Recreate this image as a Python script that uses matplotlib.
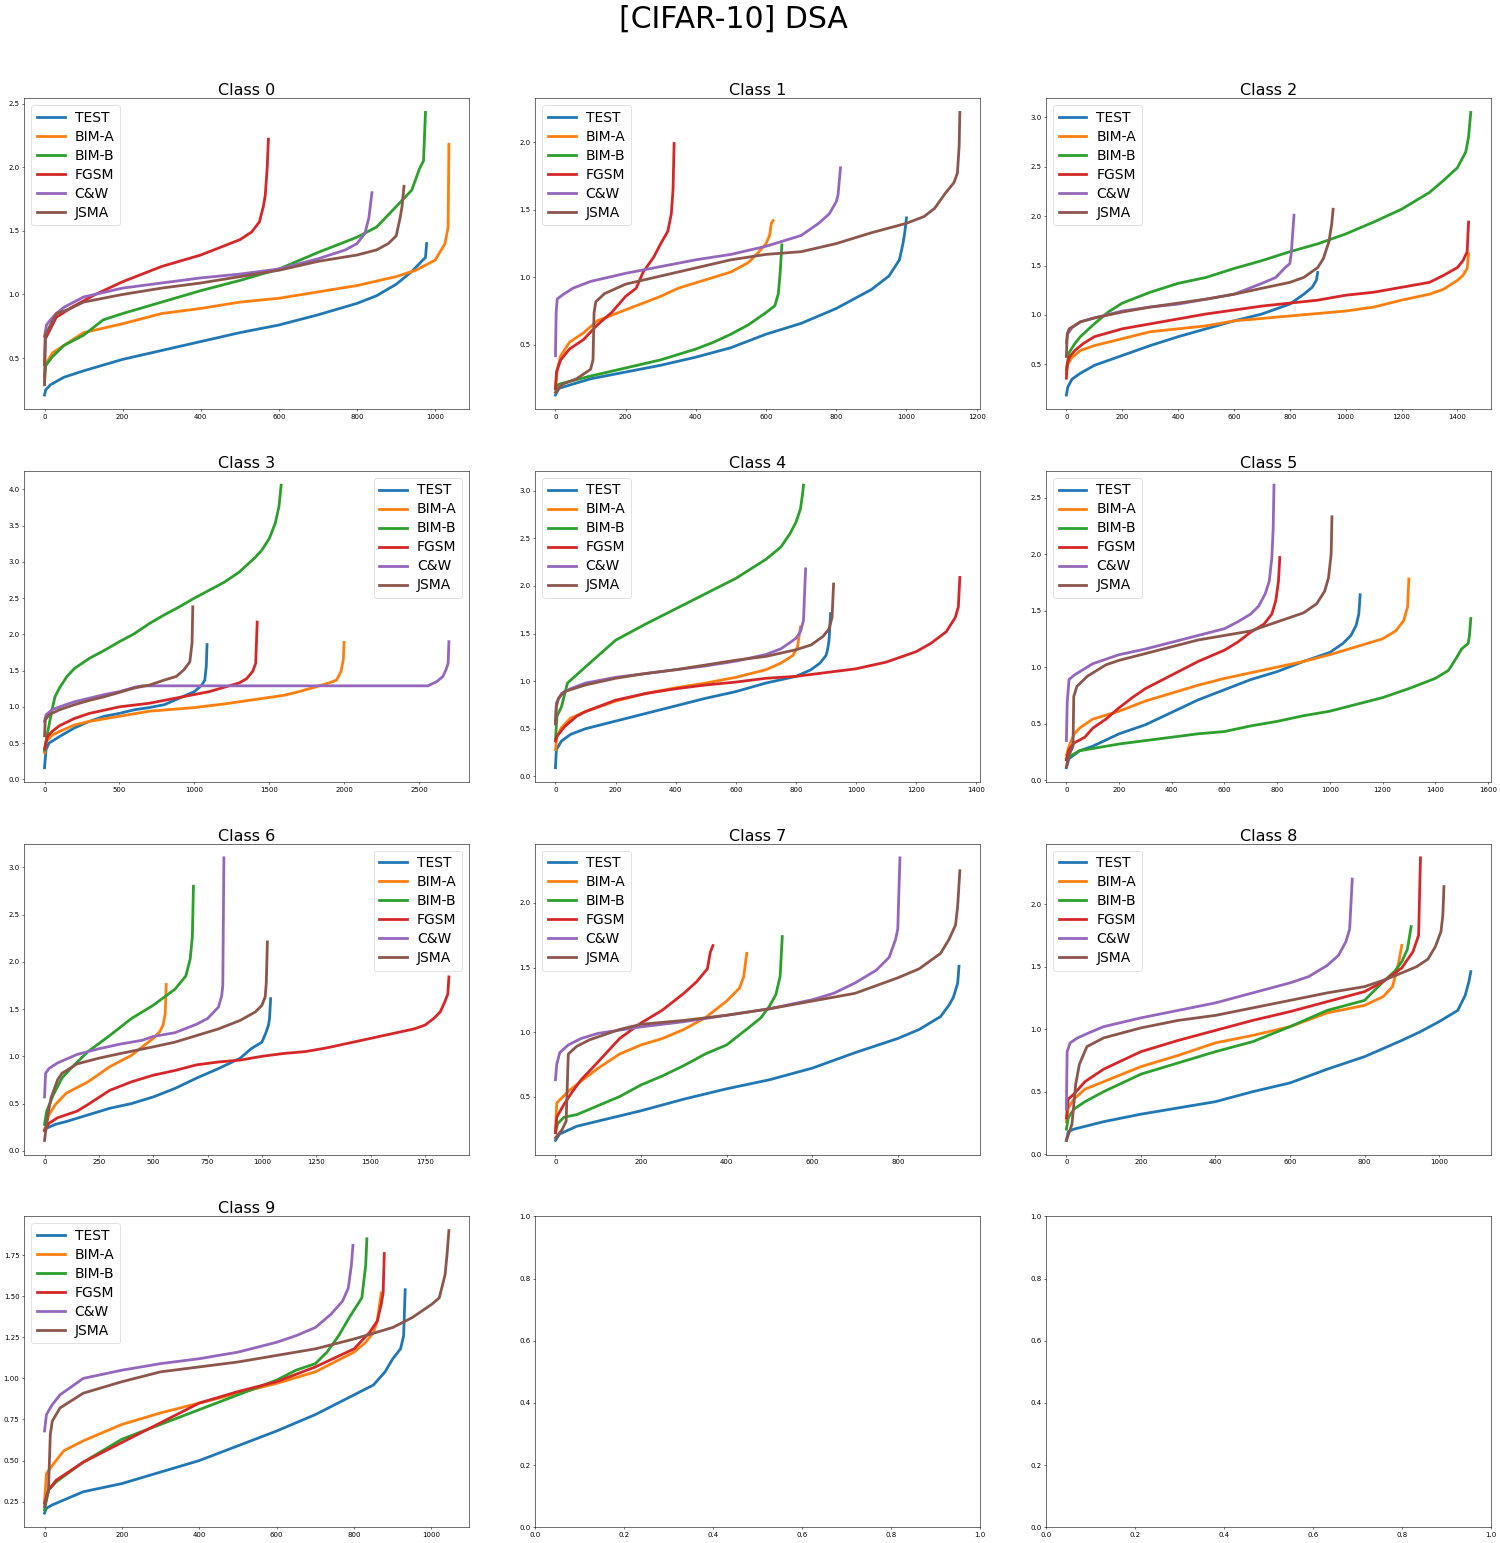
import matplotlib
matplotlib.use("Agg")
import matplotlib.pyplot as plt

SERIES = ["TEST", "BIM-A", "BIM-B", "FGSM", "C&W", "JSMA"]
COLORS = ["#1f77b4", "#ff7f0e", "#2ca02c", "#d62728", "#9467bd", "#8c564b"]
CLASS_TITLES = ["Class 0", "Class 1", "Class 2", "Class 3", "Class 4",
                "Class 5", "Class 6", "Class 7", "Class 8", "Class 9"]
LEGEND_LOC = ["upper left", "upper left", "upper left", "upper right", "upper left",
              "upper left", "upper right", "upper left", "upper left", "upper left"]

# ---------------- Class 0 ----------------
c0_test_x = [0, 3, 15, 50, 100, 200, 300, 400, 500, 600, 700, 800, 850, 900, 940, 965, 975, 978]
c0_test_y = [0.21, 0.25, 0.29, 0.35, 0.40, 0.49, 0.56, 0.63, 0.70, 0.76, 0.84, 0.93, 0.99, 1.08, 1.18, 1.26, 1.29, 1.40]
c0_bima_x = [0, 3, 20, 50, 100, 200, 300, 400, 500, 600, 700, 800, 900, 950, 1000, 1025, 1033, 1035]
c0_bima_y = [0.30, 0.45, 0.54, 0.60, 0.70, 0.77, 0.85, 0.89, 0.94, 0.97, 1.02, 1.07, 1.14, 1.19, 1.27, 1.40, 1.53, 2.18]
c0_bimb_x = [0, 3, 20, 50, 100, 150, 200, 300, 400, 500, 600, 700, 800, 850, 900, 940, 960, 970, 975]
c0_bimb_y = [0.36, 0.44, 0.51, 0.60, 0.68, 0.80, 0.85, 0.94, 1.03, 1.11, 1.20, 1.33, 1.45, 1.53, 1.69, 1.82, 1.99, 2.05, 2.43]
c0_fgsm_x = [0, 2, 30, 70, 130, 200, 300, 400, 450, 500, 530, 550, 560, 565, 570, 573]
c0_fgsm_y = [0.45, 0.65, 0.82, 0.90, 1.00, 1.10, 1.22, 1.31, 1.37, 1.43, 1.49, 1.57, 1.69, 1.78, 2.00, 2.22]
c0_cw_x = [0, 5, 15, 30, 50, 100, 200, 300, 400, 500, 600, 700, 770, 800, 820, 830, 838]
c0_cw_y = [0.67, 0.76, 0.80, 0.85, 0.90, 0.98, 1.05, 1.09, 1.13, 1.16, 1.20, 1.28, 1.35, 1.40, 1.48, 1.60, 1.80]
c0_jsma_x = [0, 2, 30, 60, 100, 200, 300, 400, 500, 600, 700, 800, 850, 880, 900, 910, 915, 920]
c0_jsma_y = [0.29, 0.68, 0.85, 0.88, 0.94, 1.00, 1.05, 1.09, 1.14, 1.19, 1.26, 1.31, 1.35, 1.40, 1.46, 1.60, 1.69, 1.85]

# ---------------- Class 1 ----------------
c1_test_x = [0, 10, 100, 200, 300, 400, 500, 600, 700, 800, 900, 950, 980, 990, 995, 1000]
c1_test_y = [0.13, 0.18, 0.25, 0.30, 0.35, 0.41, 0.48, 0.58, 0.66, 0.77, 0.91, 1.01, 1.13, 1.25, 1.33, 1.44]
c1_bima_x = [0, 5, 15, 40, 80, 120, 200, 250, 300, 350, 400, 450, 500, 550, 580, 600, 610, 615, 620]
c1_bima_y = [0.17, 0.32, 0.42, 0.52, 0.59, 0.68, 0.76, 0.81, 0.86, 0.92, 0.96, 1.00, 1.04, 1.11, 1.19, 1.25, 1.31, 1.40, 1.42]
c1_bimb_x = [0, 10, 100, 200, 300, 400, 450, 500, 550, 600, 625, 635, 640, 645]
c1_bimb_y = [0.18, 0.21, 0.27, 0.33, 0.39, 0.47, 0.52, 0.58, 0.65, 0.74, 0.79, 0.88, 1.03, 1.24]
c1_fgsm_x = [0, 3, 15, 40, 80, 120, 160, 200, 230, 250, 280, 300, 320, 330, 335, 338]
c1_fgsm_y = [0.18, 0.30, 0.39, 0.47, 0.54, 0.65, 0.74, 0.86, 0.92, 1.04, 1.15, 1.25, 1.34, 1.47, 1.65, 1.99]
c1_cw_x = [0, 2, 5, 20, 50, 100, 200, 300, 400, 500, 600, 700, 750, 780, 800, 805, 812]
c1_cw_y = [0.42, 0.74, 0.84, 0.87, 0.92, 0.97, 1.03, 1.08, 1.13, 1.17, 1.23, 1.31, 1.40, 1.47, 1.56, 1.61, 1.81]
c1_jsma_x = [0, 20, 60, 100, 107, 110, 115, 140, 200, 300, 400, 500, 600, 700, 800, 900, 1000, 1050, 1080, 1110, 1135, 1145, 1150, 1152]
c1_jsma_y = [0.15, 0.21, 0.25, 0.32, 0.39, 0.74, 0.82, 0.88, 0.95, 1.01, 1.07, 1.13, 1.17, 1.19, 1.25, 1.33, 1.40, 1.45, 1.51, 1.62, 1.70, 1.77, 1.97, 2.22]

# ---------------- Class 2 ----------------
c2_test_x = [0, 5, 20, 50, 100, 200, 300, 400, 500, 600, 700, 750, 800, 850, 880, 895, 900]
c2_test_y = [0.19, 0.27, 0.35, 0.41, 0.49, 0.59, 0.69, 0.78, 0.86, 0.94, 1.01, 1.06, 1.11, 1.21, 1.28, 1.35, 1.43]
c2_bima_x = [0, 5, 20, 50, 100, 200, 300, 400, 500, 600, 800, 1000, 1100, 1200, 1300, 1350, 1400, 1420, 1435, 1440]
c2_bima_y = [0.41, 0.50, 0.57, 0.64, 0.69, 0.76, 0.83, 0.86, 0.89, 0.94, 0.99, 1.04, 1.08, 1.15, 1.21, 1.26, 1.35, 1.40, 1.47, 1.62]
c2_bimb_x = [0, 10, 30, 50, 100, 150, 200, 300, 400, 500, 600, 700, 800, 900, 1000, 1100, 1200, 1300, 1350, 1400, 1430, 1440, 1448]
c2_bimb_y = [0.45, 0.62, 0.71, 0.78, 0.91, 1.03, 1.12, 1.23, 1.32, 1.38, 1.47, 1.55, 1.64, 1.72, 1.82, 1.94, 2.07, 2.24, 2.36, 2.49, 2.65, 2.80, 3.05]
c2_fgsm_x = [0, 3, 10, 30, 60, 100, 200, 300, 400, 500, 600, 700, 800, 900, 1000, 1100, 1200, 1300, 1350, 1400, 1420, 1435, 1440]
c2_fgsm_y = [0.36, 0.50, 0.57, 0.64, 0.71, 0.78, 0.86, 0.91, 0.96, 1.01, 1.05, 1.09, 1.12, 1.15, 1.20, 1.23, 1.28, 1.33, 1.40, 1.48, 1.55, 1.64, 1.94]
c2_cw_x = [0, 5, 20, 50, 100, 200, 300, 400, 500, 600, 700, 750, 780, 800, 805, 815]
c2_cw_y = [0.72, 0.81, 0.87, 0.93, 0.97, 1.04, 1.08, 1.11, 1.16, 1.21, 1.32, 1.38, 1.47, 1.52, 1.62, 2.01]
c2_jsma_x = [0, 3, 10, 50, 100, 200, 300, 400, 500, 600, 700, 800, 850, 900, 920, 940, 950, 955]
c2_jsma_y = [0.58, 0.81, 0.86, 0.93, 0.97, 1.03, 1.08, 1.12, 1.16, 1.21, 1.27, 1.33, 1.38, 1.48, 1.57, 1.74, 1.92, 2.07]

# ---------------- Class 3 ----------------
c3_test_x = [0, 10, 30, 100, 200, 300, 400, 500, 600, 700, 800, 900, 1000, 1050, 1070, 1080, 1085]
c3_test_y = [0.16, 0.41, 0.50, 0.59, 0.71, 0.80, 0.87, 0.91, 0.96, 0.99, 1.03, 1.12, 1.21, 1.30, 1.37, 1.56, 1.86]
c3_bima_x = [0, 10, 50, 100, 200, 300, 500, 700, 1000, 1200, 1400, 1600, 1700, 1800, 1900, 1950, 1980, 1995, 2000]
c3_bima_y = [0.37, 0.52, 0.61, 0.66, 0.75, 0.80, 0.87, 0.94, 0.99, 1.04, 1.10, 1.16, 1.21, 1.27, 1.33, 1.37, 1.49, 1.65, 1.89]
c3_bimb_x = [0, 20, 50, 70, 100, 150, 200, 300, 400, 500, 600, 700, 800, 900, 1000, 1100, 1200, 1300, 1400, 1450, 1500, 1540, 1565, 1580]
c3_bimb_y = [0.40, 0.64, 0.96, 1.14, 1.26, 1.42, 1.53, 1.67, 1.78, 1.90, 2.01, 2.15, 2.27, 2.38, 2.50, 2.61, 2.72, 2.86, 3.05, 3.16, 3.32, 3.53, 3.76, 4.06]
c3_fgsm_x = [0, 20, 50, 100, 200, 300, 500, 700, 900, 1100, 1200, 1300, 1350, 1390, 1410, 1420]
c3_fgsm_y = [0.42, 0.59, 0.66, 0.74, 0.84, 0.91, 1.00, 1.05, 1.13, 1.21, 1.27, 1.33, 1.39, 1.49, 1.60, 2.17]
c3_cw_x = [0, 10, 50, 100, 200, 300, 400, 500, 600, 650, 2560, 2620, 2660, 2680, 2695, 2700]
c3_cw_y = [0.80, 0.89, 0.96, 1.00, 1.07, 1.12, 1.17, 1.21, 1.27, 1.29, 1.29, 1.35, 1.42, 1.51, 1.60, 1.90]
c3_jsma_x = [0, 5, 30, 100, 200, 300, 400, 500, 600, 700, 800, 880, 930, 970, 985, 990]
c3_jsma_y = [0.60, 0.82, 0.89, 0.96, 1.03, 1.09, 1.14, 1.20, 1.26, 1.30, 1.37, 1.42, 1.51, 1.62, 1.88, 2.38]

# ---------------- Class 4 ----------------
c4_test_x = [0, 3, 20, 50, 100, 200, 300, 400, 500, 600, 700, 800, 850, 880, 900, 905, 910, 915]
c4_test_y = [0.09, 0.28, 0.37, 0.44, 0.50, 0.58, 0.66, 0.74, 0.82, 0.89, 0.98, 1.05, 1.12, 1.19, 1.27, 1.33, 1.43, 1.71]
c4_bima_x = [0, 5, 20, 50, 100, 200, 300, 400, 500, 600, 700, 750, 790, 805, 815]
c4_bima_y = [0.28, 0.42, 0.51, 0.61, 0.68, 0.79, 0.87, 0.93, 0.98, 1.04, 1.12, 1.19, 1.27, 1.36, 1.57]
c4_bimb_x = [0, 5, 20, 40, 100, 150, 200, 300, 400, 500, 600, 700, 750, 780, 800, 815, 822, 825]
c4_bimb_y = [0.38, 0.63, 0.73, 0.98, 1.15, 1.29, 1.43, 1.60, 1.76, 1.92, 2.08, 2.28, 2.41, 2.55, 2.67, 2.81, 2.97, 3.06]
c4_fgsm_x = [0, 5, 30, 70, 100, 200, 300, 400, 500, 600, 700, 800, 900, 1000, 1100, 1200, 1250, 1300, 1330, 1340, 1345]
c4_fgsm_y = [0.37, 0.42, 0.52, 0.63, 0.68, 0.80, 0.87, 0.92, 0.96, 0.99, 1.03, 1.05, 1.09, 1.13, 1.20, 1.31, 1.40, 1.52, 1.67, 1.78, 2.09]
c4_cw_x = [0, 3, 20, 50, 100, 200, 300, 400, 500, 600, 700, 750, 800, 815, 825, 832]
c4_cw_y = [0.55, 0.77, 0.87, 0.92, 0.98, 1.04, 1.08, 1.12, 1.16, 1.21, 1.28, 1.34, 1.45, 1.52, 1.64, 2.18]
c4_jsma_x = [0, 3, 10, 30, 100, 200, 300, 400, 500, 600, 700, 800, 850, 890, 910, 920, 925]
c4_jsma_y = [0.55, 0.73, 0.82, 0.89, 0.96, 1.03, 1.08, 1.12, 1.17, 1.22, 1.26, 1.33, 1.38, 1.47, 1.55, 1.67, 2.02]

# ---------------- Class 5 ----------------
c5_test_x = [0, 10, 50, 100, 200, 300, 400, 500, 600, 700, 800, 900, 1000, 1050, 1080, 1100, 1110, 1115]
c5_test_y = [0.11, 0.19, 0.26, 0.30, 0.41, 0.49, 0.60, 0.71, 0.80, 0.89, 0.96, 1.05, 1.13, 1.21, 1.28, 1.37, 1.47, 1.64]
c5_bima_x = [0, 10, 30, 50, 100, 200, 300, 400, 500, 600, 700, 800, 900, 1000, 1100, 1200, 1250, 1280, 1295, 1300]
c5_bima_y = [0.22, 0.30, 0.41, 0.46, 0.54, 0.61, 0.70, 0.77, 0.84, 0.90, 0.95, 1.00, 1.05, 1.11, 1.18, 1.25, 1.32, 1.41, 1.53, 1.78]
c5_bimb_x = [0, 20, 50, 100, 200, 300, 400, 500, 600, 700, 800, 900, 1000, 1100, 1200, 1300, 1400, 1450, 1480, 1500, 1525, 1530, 1535]
c5_bimb_y = [0.19, 0.22, 0.26, 0.28, 0.32, 0.35, 0.38, 0.41, 0.43, 0.48, 0.52, 0.57, 0.61, 0.67, 0.73, 0.81, 0.90, 0.97, 1.08, 1.16, 1.21, 1.28, 1.43]
c5_fgsm_x = [0, 10, 30, 70, 100, 150, 200, 250, 300, 400, 500, 600, 650, 700, 750, 780, 795, 805, 810]
c5_fgsm_y = [0.18, 0.27, 0.33, 0.38, 0.46, 0.54, 0.64, 0.73, 0.81, 0.93, 1.05, 1.15, 1.22, 1.31, 1.38, 1.47, 1.59, 1.76, 1.97]
c5_cw_x = [0, 3, 10, 30, 100, 200, 300, 400, 500, 600, 650, 700, 730, 755, 770, 780, 785, 788]
c5_cw_y = [0.35, 0.68, 0.89, 0.93, 1.03, 1.11, 1.16, 1.22, 1.28, 1.34, 1.40, 1.47, 1.54, 1.65, 1.76, 1.97, 2.23, 2.61]
c5_jsma_x = [0, 10, 25, 28, 40, 80, 150, 200, 300, 400, 500, 600, 700, 800, 900, 950, 980, 995, 1005, 1008]
c5_jsma_y = [0.12, 0.22, 0.30, 0.74, 0.83, 0.92, 1.02, 1.06, 1.12, 1.18, 1.24, 1.28, 1.32, 1.40, 1.48, 1.56, 1.67, 1.79, 2.00, 2.33]

# ---------------- Class 6 ----------------
c6_test_x = [0, 10, 50, 100, 200, 300, 400, 500, 600, 700, 800, 900, 950, 1000, 1020, 1030, 1035, 1040]
c6_test_y = [0.21, 0.24, 0.28, 0.31, 0.38, 0.45, 0.50, 0.57, 0.66, 0.77, 0.87, 0.98, 1.08, 1.15, 1.26, 1.33, 1.40, 1.61]
c6_bima_x = [0, 20, 50, 100, 200, 300, 400, 450, 500, 530, 545, 555, 560]
c6_bima_y = [0.22, 0.38, 0.49, 0.61, 0.73, 0.89, 1.01, 1.10, 1.19, 1.26, 1.33, 1.45, 1.76]
c6_bimb_x = [0, 10, 40, 80, 120, 200, 300, 400, 500, 600, 650, 670, 680, 685]
c6_bimb_y = [0.28, 0.42, 0.59, 0.77, 0.87, 1.05, 1.22, 1.40, 1.54, 1.71, 1.85, 2.03, 2.27, 2.80]
c6_fgsm_x = [0, 20, 60, 150, 200, 300, 400, 500, 600, 700, 800, 900, 1000, 1100, 1200, 1300, 1400, 1500, 1600, 1700, 1750, 1790, 1820, 1840, 1855, 1860]
c6_fgsm_y = [0.22, 0.29, 0.35, 0.42, 0.49, 0.64, 0.73, 0.80, 0.85, 0.91, 0.94, 0.96, 1.00, 1.03, 1.05, 1.09, 1.14, 1.19, 1.24, 1.29, 1.33, 1.40, 1.47, 1.57, 1.66, 1.84]
c6_cw_x = [0, 5, 20, 60, 150, 250, 350, 450, 500, 600, 700, 750, 800, 815, 820, 825]
c6_cw_y = [0.57, 0.82, 0.87, 0.93, 1.02, 1.08, 1.13, 1.17, 1.21, 1.25, 1.34, 1.40, 1.52, 1.64, 1.75, 3.10]
c6_jsma_x = [0, 15, 30, 60, 80, 150, 250, 350, 500, 600, 700, 800, 900, 970, 1000, 1015, 1020, 1025]
c6_jsma_y = [0.11, 0.38, 0.56, 0.75, 0.82, 0.92, 0.98, 1.03, 1.10, 1.15, 1.22, 1.29, 1.38, 1.47, 1.54, 1.63, 1.78, 2.21]

# ---------------- Class 7 ----------------
c7_test_x = [0, 10, 50, 100, 200, 300, 400, 500, 600, 700, 800, 850, 900, 920, 930, 940, 943]
c7_test_y = [0.16, 0.21, 0.27, 0.31, 0.39, 0.48, 0.56, 0.63, 0.72, 0.84, 0.95, 1.02, 1.12, 1.21, 1.27, 1.38, 1.51]
c7_bima_x = [0, 3, 30, 60, 100, 150, 200, 250, 300, 350, 400, 430, 440, 447]
c7_bima_y = [0.22, 0.45, 0.54, 0.62, 0.72, 0.83, 0.90, 0.95, 1.02, 1.11, 1.24, 1.34, 1.43, 1.61]
c7_bimb_x = [0, 5, 20, 50, 100, 150, 200, 250, 300, 350, 400, 450, 480, 500, 515, 525, 530]
c7_bimb_y = [0.22, 0.29, 0.34, 0.36, 0.43, 0.50, 0.59, 0.66, 0.74, 0.83, 0.90, 1.03, 1.11, 1.20, 1.29, 1.43, 1.74]
c7_fgsm_x = [0, 3, 20, 40, 60, 100, 150, 200, 250, 300, 330, 355, 362, 368]
c7_fgsm_y = [0.22, 0.34, 0.44, 0.54, 0.63, 0.77, 0.95, 1.07, 1.17, 1.30, 1.39, 1.49, 1.62, 1.67]
c7_cw_x = [0, 3, 10, 30, 60, 100, 200, 300, 400, 500, 600, 650, 700, 750, 780, 795, 800, 805]
c7_cw_y = [0.63, 0.75, 0.84, 0.90, 0.95, 0.99, 1.04, 1.08, 1.13, 1.18, 1.25, 1.30, 1.38, 1.48, 1.58, 1.72, 1.80, 2.35]
c7_jsma_x = [0, 15, 25, 30, 50, 80, 150, 200, 300, 400, 500, 600, 700, 800, 850, 900, 920, 935, 940, 945]
c7_jsma_y = [0.18, 0.24, 0.31, 0.83, 0.89, 0.94, 1.02, 1.06, 1.09, 1.13, 1.18, 1.24, 1.30, 1.42, 1.49, 1.61, 1.72, 1.83, 1.98, 2.25]

# ---------------- Class 8 ----------------
c8_test_x = [0, 5, 20, 100, 200, 300, 400, 500, 600, 700, 800, 900, 950, 1000, 1050, 1070, 1080, 1085]
c8_test_y = [0.11, 0.18, 0.20, 0.26, 0.32, 0.37, 0.42, 0.50, 0.57, 0.68, 0.78, 0.91, 0.98, 1.06, 1.15, 1.27, 1.38, 1.46]
c8_bima_x = [0, 5, 20, 50, 100, 200, 300, 400, 500, 600, 700, 800, 850, 875, 890, 900]
c8_bima_y = [0.26, 0.37, 0.44, 0.52, 0.58, 0.70, 0.79, 0.89, 0.95, 1.02, 1.13, 1.19, 1.26, 1.34, 1.51, 1.67]
c8_bimb_x = [0, 5, 20, 50, 100, 200, 300, 400, 500, 600, 700, 800, 850, 880, 900, 915, 925]
c8_bimb_y = [0.20, 0.29, 0.36, 0.42, 0.50, 0.64, 0.73, 0.82, 0.90, 1.02, 1.15, 1.23, 1.38, 1.46, 1.54, 1.64, 1.82]
c8_fgsm_x = [0, 5, 20, 50, 100, 200, 300, 400, 500, 600, 700, 800, 850, 900, 930, 945, 950]
c8_fgsm_y = [0.29, 0.44, 0.48, 0.58, 0.68, 0.82, 0.91, 0.99, 1.07, 1.14, 1.22, 1.30, 1.38, 1.49, 1.62, 1.75, 2.37]
c8_cw_x = [0, 2, 10, 30, 60, 100, 200, 300, 400, 500, 600, 650, 700, 730, 750, 760, 767]
c8_cw_y = [0.36, 0.82, 0.89, 0.93, 0.97, 1.02, 1.09, 1.15, 1.21, 1.29, 1.37, 1.42, 1.51, 1.59, 1.70, 1.80, 2.20]
c8_jsma_x = [0, 15, 25, 35, 55, 100, 200, 300, 400, 500, 600, 700, 800, 850, 900, 940, 970, 990, 1005, 1010, 1013]
c8_jsma_y = [0.11, 0.24, 0.56, 0.72, 0.86, 0.93, 1.01, 1.07, 1.11, 1.17, 1.23, 1.29, 1.34, 1.39, 1.45, 1.50, 1.56, 1.66, 1.78, 1.91, 2.14]

# ---------------- Class 9 ----------------
c9_test_x = [0, 5, 20, 50, 100, 200, 300, 400, 500, 600, 700, 800, 850, 880, 900, 920, 928, 932]
c9_test_y = [0.18, 0.21, 0.23, 0.26, 0.31, 0.36, 0.43, 0.50, 0.59, 0.68, 0.78, 0.90, 0.96, 1.04, 1.12, 1.18, 1.26, 1.54]
c9_bima_x = [0, 5, 20, 50, 100, 200, 300, 400, 500, 600, 700, 800, 830, 850, 860, 870]
c9_bima_y = [0.25, 0.42, 0.47, 0.56, 0.62, 0.72, 0.79, 0.85, 0.91, 0.97, 1.04, 1.16, 1.22, 1.28, 1.35, 1.52]
c9_bimb_x = [0, 10, 30, 100, 200, 300, 400, 500, 600, 650, 700, 730, 760, 790, 820, 830, 833]
c9_bimb_y = [0.20, 0.32, 0.37, 0.49, 0.63, 0.72, 0.81, 0.90, 0.99, 1.05, 1.09, 1.16, 1.26, 1.38, 1.49, 1.69, 1.85]
c9_fgsm_x = [0, 10, 30, 100, 200, 300, 400, 500, 600, 700, 800, 840, 860, 870, 875, 878]
c9_fgsm_y = [0.24, 0.32, 0.38, 0.49, 0.61, 0.73, 0.85, 0.92, 0.98, 1.07, 1.18, 1.28, 1.35, 1.45, 1.52, 1.76]
c9_cw_x = [0, 5, 20, 40, 100, 200, 300, 400, 500, 600, 650, 700, 740, 770, 785, 793, 797]
c9_cw_y = [0.68, 0.78, 0.84, 0.90, 1.00, 1.05, 1.09, 1.12, 1.16, 1.22, 1.26, 1.31, 1.39, 1.47, 1.55, 1.69, 1.81]
c9_jsma_x = [0, 10, 15, 20, 40, 100, 200, 300, 400, 500, 600, 700, 800, 900, 950, 1000, 1020, 1035, 1040, 1045]
c9_jsma_y = [0.22, 0.31, 0.66, 0.74, 0.82, 0.91, 0.98, 1.04, 1.07, 1.10, 1.14, 1.18, 1.24, 1.31, 1.37, 1.45, 1.49, 1.63, 1.75, 1.90]

CLASS_X = [
    [c0_test_x, c0_bima_x, c0_bimb_x, c0_fgsm_x, c0_cw_x, c0_jsma_x],
    [c1_test_x, c1_bima_x, c1_bimb_x, c1_fgsm_x, c1_cw_x, c1_jsma_x],
    [c2_test_x, c2_bima_x, c2_bimb_x, c2_fgsm_x, c2_cw_x, c2_jsma_x],
    [c3_test_x, c3_bima_x, c3_bimb_x, c3_fgsm_x, c3_cw_x, c3_jsma_x],
    [c4_test_x, c4_bima_x, c4_bimb_x, c4_fgsm_x, c4_cw_x, c4_jsma_x],
    [c5_test_x, c5_bima_x, c5_bimb_x, c5_fgsm_x, c5_cw_x, c5_jsma_x],
    [c6_test_x, c6_bima_x, c6_bimb_x, c6_fgsm_x, c6_cw_x, c6_jsma_x],
    [c7_test_x, c7_bima_x, c7_bimb_x, c7_fgsm_x, c7_cw_x, c7_jsma_x],
    [c8_test_x, c8_bima_x, c8_bimb_x, c8_fgsm_x, c8_cw_x, c8_jsma_x],
    [c9_test_x, c9_bima_x, c9_bimb_x, c9_fgsm_x, c9_cw_x, c9_jsma_x],
]
CLASS_Y = [
    [c0_test_y, c0_bima_y, c0_bimb_y, c0_fgsm_y, c0_cw_y, c0_jsma_y],
    [c1_test_y, c1_bima_y, c1_bimb_y, c1_fgsm_y, c1_cw_y, c1_jsma_y],
    [c2_test_y, c2_bima_y, c2_bimb_y, c2_fgsm_y, c2_cw_y, c2_jsma_y],
    [c3_test_y, c3_bima_y, c3_bimb_y, c3_fgsm_y, c3_cw_y, c3_jsma_y],
    [c4_test_y, c4_bima_y, c4_bimb_y, c4_fgsm_y, c4_cw_y, c4_jsma_y],
    [c5_test_y, c5_bima_y, c5_bimb_y, c5_fgsm_y, c5_cw_y, c5_jsma_y],
    [c6_test_y, c6_bima_y, c6_bimb_y, c6_fgsm_y, c6_cw_y, c6_jsma_y],
    [c7_test_y, c7_bima_y, c7_bimb_y, c7_fgsm_y, c7_cw_y, c7_jsma_y],
    [c8_test_y, c8_bima_y, c8_bimb_y, c8_fgsm_y, c8_cw_y, c8_jsma_y],
    [c9_test_y, c9_bima_y, c9_bimb_y, c9_fgsm_y, c9_cw_y, c9_jsma_y],
]

fig, axes = plt.subplots(4, 3, figsize=(30, 30.86), dpi=50)
fig.subplots_adjust(left=0.0162, right=0.994, top=0.9363, bottom=0.0102,
                    wspace=0.1486, hspace=0.199)

for k, ax in enumerate(axes.flat):
    if k >= len(CLASS_TITLES):
        continue
    for s, name in enumerate(SERIES):
        ax.plot(CLASS_X[k][s], CLASS_Y[k][s], color=COLORS[s], lw=4, label=name)
    ax.set_title(CLASS_TITLES[k], fontsize=23, pad=4)
    ax.legend(loc=LEGEND_LOC[k], fontsize=20, labelspacing=0.36,
              handletextpad=0.72)

fig.suptitle("[CIFAR-10] DSA", fontsize=43, x=0.489, y=0.997, va="top")
fig.savefig("out.png", dpi=50)
